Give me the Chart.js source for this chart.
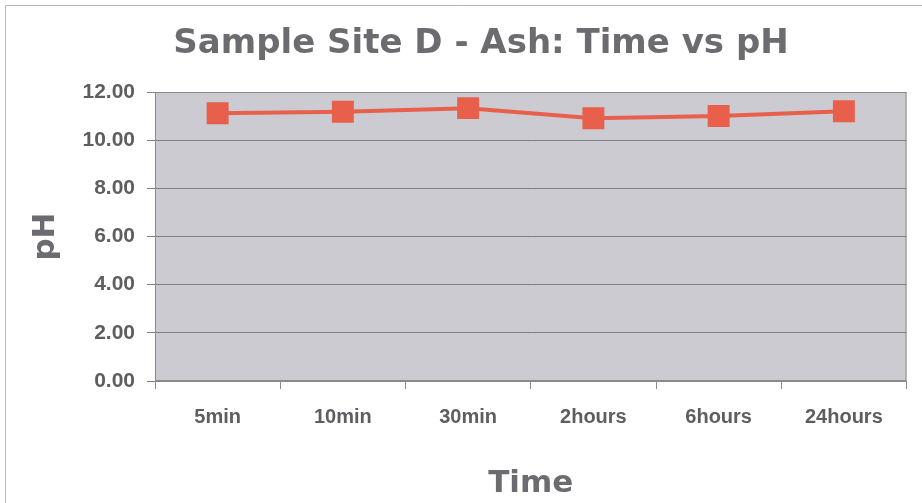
<!doctype html>
<html lang="en">
<head>
  <meta charset="utf-8">
  <script src="https://cdn.jsdelivr.net/npm/chart.js@4/dist/chart.umd.min.js"></script>
  <style>
    html, body { margin: 0; padding: 0; background: #fff; }
    #wrap { width: 922px; height: 503px; }
  </style>
</head>
<body>
<div id="wrap"><canvas id="chart"></canvas></div>
<script>
  // sample times and measured pH
  const timeLabels = ['5min', '10min', '30min', '2hours', '6hours', '24hours'];
  const phValues = [11.12, 11.18, 11.33, 10.91, 11.0, 11.2];
  const yTicks = [0, 2, 4, 6, 8, 10, 12];
  const chartTitle = 'Sample Site D - Ash: Time vs pH';

  const titleFont = 'bold 34px "DejaVu Sans", Arial, sans-serif';

  // white page, frame, grey plot area and the main title
  const backdrop = {
    id: 'backdrop',
    beforeDraw(chart) {
      const {ctx, chartArea: a, width, height} = chart;
      ctx.save();
      ctx.fillStyle = '#fff';
      ctx.fillRect(0, 0, width, height);
      ctx.strokeStyle = '#b8b8b8';
      ctx.lineWidth = 1;
      ctx.beginPath();
      ctx.moveTo(5.5, height);
      ctx.lineTo(5.5, 5.5);
      ctx.lineTo(width, 5.5);
      ctx.stroke();
      ctx.fillStyle = '#cbcbd1';
      ctx.fillRect(a.left, a.top, a.right - a.left, a.bottom - a.top);
      ctx.restore();
    },
    afterDatasetsDraw(chart) {
      const {ctx, chartArea: a} = chart;
      ctx.save();
      ctx.strokeStyle = '#8a8a8a';
      ctx.lineWidth = 1;
      ctx.strokeRect(a.left + 0.5, a.top + 0.5, a.right - a.left - 1, a.bottom - a.top - 1);
      ctx.restore();
    },
    afterDraw(chart) {
      const {ctx} = chart;
      ctx.save();
      ctx.font = titleFont;
      ctx.fillStyle = '#6b6b70';
      ctx.textAlign = 'center';
      ctx.textBaseline = 'middle';
      ctx.fillText(chartTitle, 481, 44);
      ctx.restore();
    }
  };

  new Chart(document.getElementById('chart'), {
    type: 'line',
    data: {
      labels: timeLabels,
      datasets: [{
        label: 'pH',
        data: phValues,
        borderColor: '#e8604c',
        backgroundColor: '#e8604c',
        borderWidth: 4,
        pointStyle: 'rect',
        pointRadius: 15.5,
        pointBorderWidth: 0,
        tension: 0
      }]
    },
    options: {
      responsive: true,
      maintainAspectRatio: false,
      animation: false,
      layout: { padding: { left: 8, right: 15, top: 92, bottom: 0 } },
      plugins: {
        legend: { display: false },
        tooltip: { enabled: false },
        title: { display: false }
      },
      scales: {
        x: {
          offset: true,
          grid: { offset: true, drawOnChartArea: false, tickLength: 8, color: '#8a8a8a' },
          border: { color: '#8a8a8a' },
          ticks: {
            color: '#5e5e62',
            padding: 16,
            maxRotation: 0,
            font: { family: 'Liberation Sans, Arial, sans-serif', size: 20, weight: 'bold' }
          },
          title: {
            display: true,
            text: 'Time',
            color: '#6b6b70',
            padding: { top: 17, bottom: 0 },
            font: { family: 'DejaVu Sans, Arial, sans-serif', size: 31, weight: 'bold' }
          },
          afterFit(scale) { scale.height = 122; }
        },
        y: {
          min: 0,
          max: 12,
          afterBuildTicks(scale) { scale.ticks = yTicks.map(v => ({ value: v })); },
          grid: { color: '#7f7f7f', tickLength: 8 },
          border: { color: '#8a8a8a' },
          ticks: {
            color: '#5e5e62',
            padding: 12,
            font: { family: 'Liberation Sans, Arial, sans-serif', size: 21, weight: 'bold' },
            callback: v => Number(v).toFixed(2)
          },
          title: {
            display: true,
            text: 'pH',
            color: '#6b6b70',
            padding: { top: 19, bottom: 0 },
            font: { family: 'DejaVu Sans, Arial, sans-serif', size: 31, weight: 'bold' }
          },
          afterFit(scale) { scale.width = 147; }
        }
      }
    },
    plugins: [backdrop]
  });
</script>
</body>
</html>
